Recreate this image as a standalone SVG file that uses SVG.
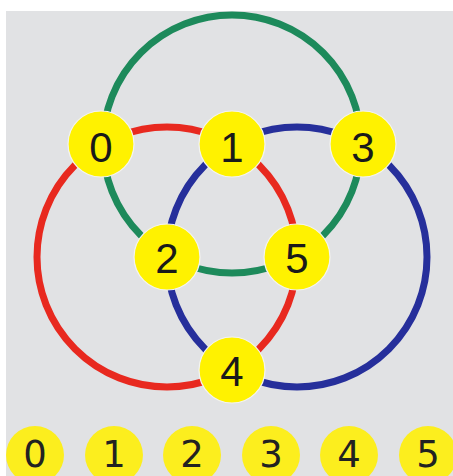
<svg xmlns="http://www.w3.org/2000/svg" width="453" height="476" viewBox="0 0 453 476">
<style>
.ring{fill:none;stroke-width:7}
.node circle{fill:#fff200;stroke:#f4f4f0;stroke-width:1.2}
.node text{font-family:"Liberation Sans",Arial,sans-serif;font-size:42px;fill:#1a1a1a;text-anchor:middle}
.key circle{fill:#fcee1e}
.key text{font-family:"DejaVu Sans",sans-serif;font-size:37px;fill:#222;text-anchor:middle}
</style>
<rect x="0" y="0" width="453" height="476" fill="#ffffff"/>
<rect x="6" y="11" width="447" height="465" fill="#e1e2e4"/>
<g id="connectors">
<circle class="ring" cx="232" cy="144" r="129" stroke="#1d8a5b"/>
<circle class="ring" cx="167" cy="257" r="130" stroke="#e8291f"/>
<circle class="ring" cx="297" cy="257" r="130" stroke="#262f9b"/>
</g>
<g id="n0" class="node"><circle cx="101" cy="144" r="33"/><text x="101" y="162">0</text></g>
<g id="n1" class="node"><circle cx="232" cy="144" r="33"/><text x="232" y="162">1</text></g>
<g id="n3" class="node"><circle cx="363" cy="144" r="33"/><text x="363" y="162">3</text></g>
<g id="n2" class="node"><circle cx="167" cy="257" r="33"/><text x="167" y="273">2</text></g>
<g id="n5" class="node"><circle cx="297" cy="257" r="33"/><text x="297" y="273">5</text></g>
<g id="n4" class="node"><circle cx="232" cy="370" r="33"/><text x="232" y="386">4</text></g>
<g id="k0" class="key"><circle cx="35" cy="455" r="29"/><text x="35" y="467">0</text></g>
<g id="k1" class="key"><circle cx="114" cy="455" r="29"/><text x="114" y="467">1</text></g>
<g id="k2" class="key"><circle cx="192" cy="455" r="29"/><text x="192" y="467">2</text></g>
<g id="k3" class="key"><circle cx="271" cy="455" r="29"/><text x="271" y="467">3</text></g>
<g id="k4" class="key"><circle cx="349" cy="455" r="29"/><text x="349" y="467">4</text></g>
<g id="k5" class="key"><circle cx="428" cy="455" r="29"/><text x="428" y="467">5</text></g>
</svg>
